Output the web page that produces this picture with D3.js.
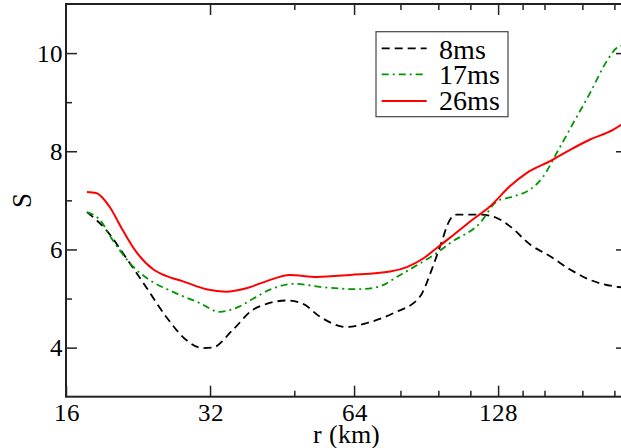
<!DOCTYPE html>
<html><head><meta charset="utf-8">
<script src="https://cdn.jsdelivr.net/npm/d3@7"></script>
<style>
@font-face { font-family: "ChartSerif"; src: local("Liberation Serif"), local("LiberationSerif"), local("LiberationSerif-Regular"), local("Times New Roman"); }
svg text { font-family: "ChartSerif", "Liberation Serif", "Times New Roman", serif !important; }
</style>
</head>
<body style="margin:0">
<svg id="c" width="621" height="448"></svg>
<script>
// ---- data ----
const seriesNames = ["8ms", "17ms", "26ms"];
const r8  = [17.7, 19.4, 21.4, 23.5, 25.9, 28.5, 30.9, 32.4, 35.7, 39.3, 42.0, 46.3, 50.1, 54.3, 61.8, 68.0, 77.3, 87.9, 93.0, 96.8, 101.6, 104.9, 117.4, 127.2, 135.6, 149.3, 164.4, 181.0, 199.3, 226.6, 238];
const s8  = [6.76, 6.40, 5.82, 5.24, 4.63, 4.16, 3.99, 4.00, 4.36, 4.77, 4.89, 4.96, 4.89, 4.63, 4.42, 4.50, 4.70, 5.04, 5.59, 6.06, 6.61, 6.71, 6.71, 6.64, 6.47, 6.10, 5.86, 5.59, 5.38, 5.24, 5.22];
const r17 = [17.7, 18.8, 20.0, 22.1, 23.9, 26.7, 30.4, 33.5, 36.9, 38.8, 42.7, 47.8, 55.2, 64.8, 71.4, 79.9, 89.4, 95.3, 101.6, 117.4, 127.2, 137.8, 149.3, 159.2, 169.8, 183.9, 199.3, 216.0, 226.6, 231.4, 238];
const s17 = [6.76, 6.61, 6.20, 5.65, 5.38, 5.14, 4.91, 4.73, 4.84, 4.96, 5.18, 5.30, 5.23, 5.19, 5.23, 5.48, 5.76, 5.93, 6.13, 6.54, 6.98, 7.08, 7.22, 7.49, 7.97, 8.58, 9.19, 9.84, 10.11, 10.15, 10.17];
const r26 = [17.7, 18.5, 19.7, 21.0, 22.4, 24.3, 25.9, 28.1, 31.4, 34.6, 38.1, 41.9, 47.0, 53.5, 62.8, 76.1, 82.5, 89.4, 95.3, 101.6, 111.9, 123.2, 135.6, 147.0, 164.4, 181.0, 199.3, 222.9, 231.4, 238];
const s26 = [7.17, 7.15, 6.88, 6.40, 5.96, 5.60, 5.46, 5.35, 5.19, 5.14, 5.21, 5.35, 5.48, 5.44, 5.48, 5.55, 5.64, 5.82, 6.03, 6.24, 6.57, 6.88, 7.29, 7.56, 7.80, 8.03, 8.24, 8.44, 8.54, 8.62];

const xMajorTicks = [16, 32, 64, 128];
const xMajorLabels = ["16", "32", "64", "128"];
const xMinorTicks = [48, 80, 96, 112, 144, 160, 192, 224];
const yMajorTicks = [4, 6, 8, 10];
const yMinorTicks = [5, 7, 9];
const xDomain = [16, 238];
const yDomain = [3, 11];
const xTitle = "r (km)";
const yTitle = "S";

const FONT = "Liberation Serif";

// ---- layout ----
const L = 66, R = 627, T = 4, B = 396.7;
const svg = d3.select("#c");
const x = d3.scaleLog().base(2).domain(xDomain).range([L, R]);
const y = d3.scaleLinear().domain(yDomain).range([B, T]);

const series = [
  {name: seriesNames[0], r: r8,  s: s8,  color: "#000000", dash: "8,5", w: 1.8},
  {name: seriesNames[1], r: r17, s: s17, color: "#009600", dash: "7,4,2,4", w: 1.8},
  {name: seriesNames[2], r: r26, s: s26, color: "#ff0000", dash: null, w: 2}
];

const line = d3.line().x(d => x(d[0])).y(d => y(d[1])).curve(d3.curveMonotoneX);

const plot = svg.append("g");
series.forEach(sr => {
  const pts = sr.r.map((v, i) => [v, sr.s[i]]);
  const p = plot.append("path").datum(pts)
    .attr("d", line).attr("fill", "none")
    .attr("stroke", sr.color).attr("stroke-width", sr.w);
  if (sr.dash) p.attr("stroke-dasharray", sr.dash);
});

// ---- axes ----
function styleAxis(g) {
  g.attr("font-family", FONT).attr("font-size", 25);
  g.select(".domain").remove();
  g.selectAll(".tick line").attr("stroke", "#222").attr("stroke-width", 1.5);
  g.selectAll("text").attr("font-family", FONT).attr("font-size", 25).attr("fill", "#000");
}
const fmt = d => xMajorLabels[xMajorTicks.indexOf(d)];
svg.append("g").attr("transform", `translate(0,${B})`)
  .call(d3.axisBottom(x).tickValues(xMajorTicks).tickFormat(fmt).tickSize(-11).tickPadding(6.5))
  .call(styleAxis);
svg.append("g").attr("transform", `translate(0,${B})`)
  .call(d3.axisBottom(x).tickValues(xMinorTicks).tickFormat("").tickSize(-6))
  .call(styleAxis);
svg.append("g").attr("transform", `translate(0,${T})`)
  .call(d3.axisTop(x).tickValues(xMajorTicks.filter(v => v > xDomain[0])).tickFormat("").tickSize(-11))
  .call(styleAxis);
svg.append("g").attr("transform", `translate(0,${T})`)
  .call(d3.axisTop(x).tickValues(xMinorTicks).tickFormat("").tickSize(-6))
  .call(styleAxis);
svg.append("g").attr("transform", `translate(${L},0)`)
  .call(d3.axisLeft(y).tickValues(yMajorTicks).tickFormat(d3.format("d")).tickSize(-11).tickPadding(3.5))
  .call(styleAxis);
svg.append("g").attr("transform", `translate(${L},0)`)
  .call(d3.axisLeft(y).tickValues(yMinorTicks).tickFormat("").tickSize(-6))
  .call(styleAxis);
svg.append("g").attr("transform", `translate(${R},0)`)
  .call(d3.axisRight(y).tickValues(yMajorTicks).tickFormat("").tickSize(-11))
  .call(styleAxis);
svg.append("g").attr("transform", `translate(${R},0)`)
  .call(d3.axisRight(y).tickValues(yMinorTicks).tickFormat("").tickSize(-6))
  .call(styleAxis);

// frame
svg.append("rect").attr("x", L).attr("y", T).attr("width", R - L).attr("height", B - T)
  .attr("fill", "none").attr("stroke", "#222").attr("stroke-width", 2);

// titles
svg.append("text").attr("x", (L + R) / 2).attr("y", 443).attr("text-anchor", "middle")
  .attr("font-family", FONT).attr("font-size", 26).text(xTitle);
svg.append("text").attr("transform", "translate(31,200) rotate(-90)").attr("text-anchor", "middle")
  .attr("font-family", FONT).attr("font-size", 27).text(yTitle);

// legend
const lg = svg.append("g");
lg.append("rect").attr("x", 376).attr("y", 31.7).attr("width", 132).attr("height", 85)
  .attr("fill", "#fff").attr("stroke", "#444").attr("stroke-width", 1.2);
const lineY = [48.3, 74.3, 101];
const textY = [58.5, 84, 110];
series.forEach((sr, i) => {
  const l = lg.append("line").attr("x1", 381.7).attr("x2", 426.7)
    .attr("y1", lineY[i]).attr("y2", lineY[i])
    .attr("stroke", sr.color).attr("stroke-width", sr.w);
  if (sr.dash) l.attr("stroke-dasharray", sr.dash);
  lg.append("text").attr("x", 439).attr("y", textY[i])
    .attr("font-family", FONT).attr("font-size", 28).text(sr.name);
});
</script>
</body></html>
